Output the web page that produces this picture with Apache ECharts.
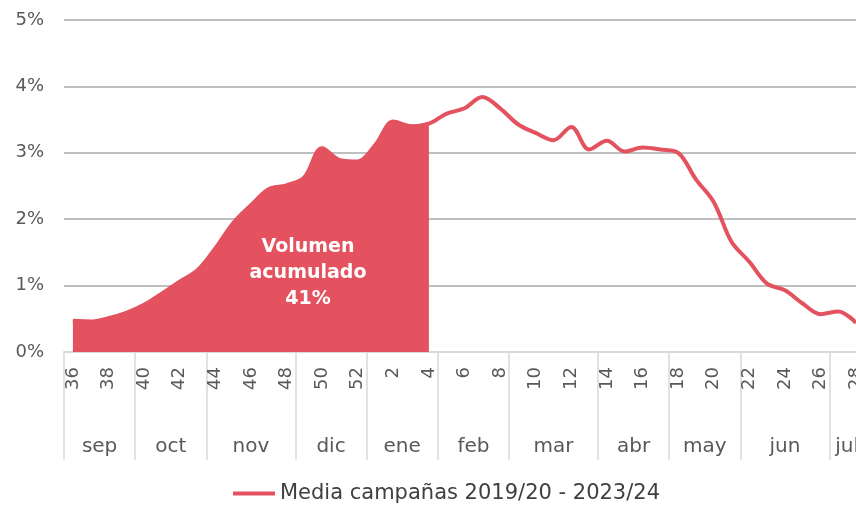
<!DOCTYPE html>
<html>
<head>
<meta charset="utf-8">
<script src="https://cdn.jsdelivr.net/npm/echarts@6/dist/echarts.min.js"></script>
<style>
  html, body { margin: 0; padding: 0; background: #fff; }
  #chart { width: 856px; height: 505px; }
</style>
</head>
<body>
<div id="chart"></div>
<script>
  // semanas de campaña (sep -> jul)
  const semanas = ['36', '37', '38', '39', '40', '41', '42', '43', '44', '45', '46', '47', '48', '49', '50', '51', '52',
    '1', '2', '3', '4', '5', '6', '7', '8', '9', '10', '11', '12', '13', '14', '15', '16', '17', '18', '19', '20',
    '21', '22', '23', '24', '25', '26', '27', '28'];
  // % del volumen de la campaña por semana
  const media = [0.47, 0.46, 0.51, 0.59, 0.71, 0.88, 1.06, 1.23, 1.56, 1.94, 2.21, 2.45, 2.51, 2.63, 3.07, 2.89, 2.87,
    3.12, 3.47, 3.40, 3.44, 3.59, 3.67, 3.84, 3.67, 3.43, 3.30, 3.19, 3.39, 3.05, 3.18, 3.02, 3.08, 3.05, 3.00, 2.60, 2.26,
    1.66, 1.36, 1.03, 0.93, 0.73, 0.57, 0.61, 0.44];
  const semanaCorte = '4';
  const meses = ['sep', 'oct', 'nov', 'dic', 'ene', 'feb', 'mar', 'abr', 'may', 'jun', 'jul'];
  const semanasPorMes = [4, 4, 5, 4, 4, 4, 5, 4, 4, 5, 2];
  const yTicks = [0, 1, 2, 3, 4, 5];
  const nombreSerie = 'Media campañas 2019/20 - 2023/24';
  const textoVolumen = 'Volumen\nacumulado\n41%';

  const rojo = '#e3525e';
  const gris = '#595959';
  const fuente = 'DejaVu Sans';

  // serie con area hasta la semana de corte
  const corte = semanas.indexOf(semanaCorte);
  const acumulado = media.map((v, i) => i <= corte ? v : '-');

  // eje de meses: medias semanas, limites y centros
  const medias = [];
  for (let i = 0; i <= semanas.length * 2; i++) medias.push(String(i));
  const limites = {}, centros = {};
  let pos = 0;
  meses.forEach((m, i) => {
    limites[pos] = true;
    centros[pos + semanasPorMes[i]] = m;
    pos += semanasPorMes[i] * 2;
  });
  limites[pos] = true;

  const myChart = echarts.init(document.getElementById('chart'));
  myChart.setOption({
    animation: false,
    textStyle: { fontFamily: fuente },
    grid: { left: 64, width: 801, top: 20, bottom: 153, outerBoundsMode: 'none' },
    legend: {
      data: [nombreSerie],
      left: 228,
      top: 478,
      icon: 'rect',
      itemWidth: 42,
      itemHeight: 4,
      itemGap: 10,
      textStyle: { fontSize: 21, color: '#404040', fontFamily: fuente }
    },
    xAxis: [
      {
        type: 'category',
        data: semanas,
        boundaryGap: true,
        axisLine: { lineStyle: { color: '#d9d9d9', width: 2 } },
        axisTick: { interval: 0, length: 65, lineStyle: { color: '#d9d9d9', width: 1.5 } },
        axisLabel: { interval: 1, rotate: 90, margin: 15, fontSize: 18, color: gris, fontFamily: fuente }
      },
      {
        type: 'category',
        data: medias,
        boundaryGap: false,
        position: 'bottom',
        axisLine: { show: false },
        axisTick: {
          interval: (i) => !!limites[i],
          length: 108,
          lineStyle: { color: '#d9d9d9', width: 1.5 }
        },
        axisLabel: {
          interval: (i) => centros[i] !== undefined,
          formatter: (v, i) => centros[i] || '',
          margin: 85,
          fontSize: 20,
          color: gris,
          fontFamily: fuente
        }
      }
    ],
    yAxis: {
      type: 'value',
      min: yTicks[0],
      max: yTicks[yTicks.length - 1],
      interval: 1,
      axisLine: { show: false },
      axisTick: { show: false },
      axisLabel: { formatter: '{value}%', fontSize: 18, color: gris, margin: 20, fontFamily: fuente },
      splitLine: { lineStyle: { color: '#bfbfbf', width: 2 } }
    },
    graphic: [{
      type: 'text',
      x: 308,
      y: 273,
      z: 100,
      style: {
        text: textoVolumen,
        fill: '#fff',
        font: 'bold 19px "DejaVu Sans"',
        textAlign: 'center',
        textVerticalAlign: 'middle',
        lineHeight: 26
      }
    }],
    series: [
      {
        name: 'acumulado',
        type: 'line',
        data: acumulado,
        smooth: 0.35,
        symbol: 'none',
        lineStyle: { color: rojo, width: 3 },
        areaStyle: { color: rojo, opacity: 1 },
        z: 2
      },
      {
        name: nombreSerie,
        type: 'line',
        data: media,
        smooth: 0.35,
        symbol: 'none',
        itemStyle: { color: rojo },
        lineStyle: { color: rojo, width: 4 },
        z: 3
      }
    ]
  });
</script>
</body>
</html>
